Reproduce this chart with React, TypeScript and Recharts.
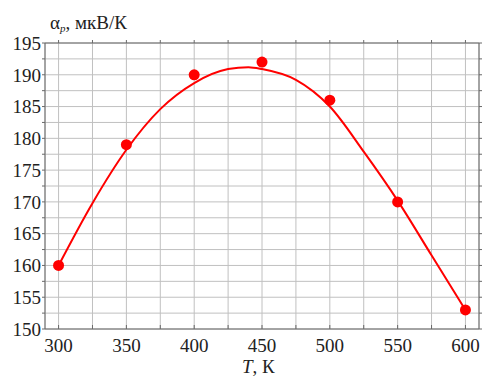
import React from "react";
import { ComposedChart, Line, XAxis, YAxis, CartesianGrid } from "recharts";

// Measured points (T, K ; alpha, µV/K)
const temps = [300, 350, 400, 450, 500, 550, 600];
const alphas = [160, 179, 190, 192, 186, 170, 153];

// Fitted curve
const curveT = [300, 325, 350, 375, 400, 425, 440, 450, 475, 500, 525, 550, 575, 600];
const curveA = [160, 169.8, 178.2, 184.6, 188.7, 190.9, 191.2, 190.9, 189.2, 185.0, 177.9, 170.2, 161.6, 153];

const xTicks = [300, 325, 350, 375, 400, 425, 450, 475, 500, 525, 550, 575, 600];
const yTicks = [150, 152.5, 155, 157.5, 160, 162.5, 165, 167.5, 170, 172.5, 175, 177.5, 180, 182.5, 185, 187.5, 190, 192.5, 195];

const points = temps.map((x, i) => ({ x, y: alphas[i] }));
const curve = curveT.map((x, i) => ({ x, y: curveA[i] }));

const RED = "red";
const FRAME = "dimgray";
const FONT = "'Liberation Serif', 'Times New Roman', serif";

const renderBottomTick = (p: any) => {
  const { x, y, payload } = p;
  const v = payload.value;
  return (
    <g key={`b-${v}`}>
      <line x1={x} x2={x} y1={y} y2={y - 4} stroke={FRAME} strokeWidth={1} />
      <text x={x} y={y + 16} dy="0.35em" textAnchor="middle" fontFamily={FONT} fontSize={19} fill="#222">
        {v % 50 === 0 ? v : ""}
      </text>
    </g>
  );
};

const yFmt = (v: number) => (v % 5 === 0 ? String(v) : "");
const blank = () => "";

export default function App() {
  return (
    <div style={{ position: "absolute", left: 0, top: 0, width: 484, height: 376, background: "#fff" }}>
      <ComposedChart width={484} height={376} margin={{ top: 38, right: 0, bottom: 0, left: 0 }}>
        <CartesianGrid stroke="silver" strokeWidth={1} />
        <XAxis
          dataKey="x"
          type="number"
          domain={[290, 610]}
          ticks={xTicks}
          interval={0}
          height={47}
          tickSize={0}
          tickMargin={0}
          tick={renderBottomTick}
          stroke={FRAME}
          allowDataOverflow
        />
        <XAxis
          xAxisId="t"
          orientation="top"
          dataKey="x"
          type="number"
          domain={[290, 610]}
          ticks={xTicks}
          interval={0}
          height={5}
          tickSize={3}
          tickFormatter={blank}
          stroke={FRAME}
        />
        <YAxis
          dataKey="y"
          type="number"
          domain={[150, 195]}
          ticks={yTicks}
          interval={0}
          width={45}
          tickSize={3}
          tickMargin={1}
          tickFormatter={yFmt}
          tick={{ fontFamily: FONT, fontSize: 19, fill: "#222" }}
          stroke={FRAME}
          allowDataOverflow
        />
        <YAxis
          yAxisId="r"
          orientation="right"
          dataKey="y"
          type="number"
          domain={[150, 195]}
          ticks={yTicks}
          interval={0}
          width={5}
          tickSize={3}
          tickFormatter={blank}
          stroke={FRAME}
        />
        <Line xAxisId="t" yAxisId="r" data={points} dataKey="y" stroke="transparent" dot={false} isAnimationActive={false} />
        <Line data={curve} dataKey="y" type="monotone" stroke={RED} strokeWidth={2} dot={false} isAnimationActive={false} />
        <Line data={points} dataKey="y" stroke="none" dot={{ r: 5.5, fill: RED, stroke: "none" }} isAnimationActive={false} />
      </ComposedChart>
      <div
        style={{
          position: "absolute",
          left: 50,
          top: 12,
          fontFamily: FONT,
          fontSize: 19,
          lineHeight: "22px",
          color: "#222",
          whiteSpace: "nowrap",
        }}
      >
        α<sub style={{ fontStyle: "italic", fontSize: 11, verticalAlign: "-3px" }}>p</sub>, мкВ/К
      </div>
      <div
        style={{
          position: "absolute",
          left: 242,
          top: 357,
          fontFamily: FONT,
          fontSize: 19,
          lineHeight: "19px",
          color: "#222",
          whiteSpace: "nowrap",
        }}
      >
        <i>T</i>, К
      </div>
    </div>
  );
}
